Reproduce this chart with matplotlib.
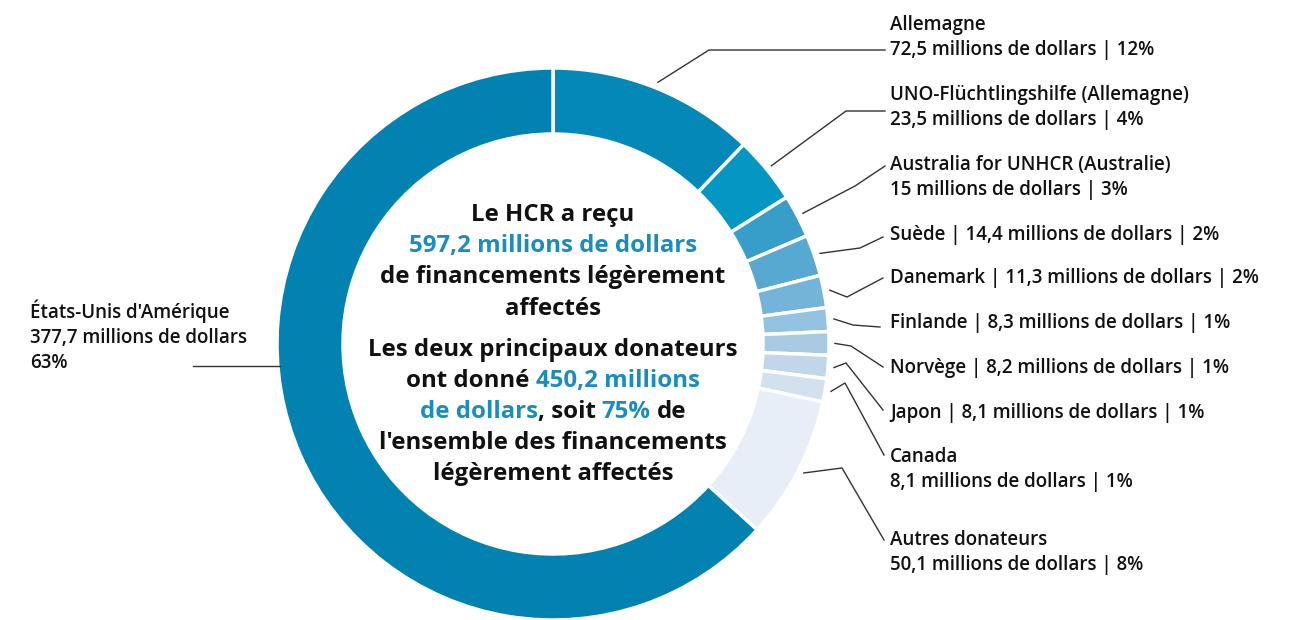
import numpy as np
import matplotlib.pyplot as plt

# données (millions de dollars)
donors = ["Allemagne", "UNO-Flüchtlingshilfe (Allemagne)", "Australia for UNHCR (Australie)",
          "Suède", "Danemark", "Finlande", "Norvège", "Japon", "Canada",
          "Autres donateurs", "États-Unis d'Amérique"]
amounts = [72.5, 23.5, 15, 14.4, 11.3, 8.3, 8.2, 8.1, 8.1, 50.1, 377.7]
amount_txt = ["72,5", "23,5", "15", "14,4", "11,3", "8,3", "8,2", "8,1", "8,1", "50,1", "377,7"]
pct_txt = ["12%", "4%", "3%", "2%", "2%", "1%", "1%", "1%", "1%", "8%", "63%"]
colors = ["#0388b7", "#0597c4", "#379ec9", "#57a9d2", "#75b4d9", "#94c2e1",
          "#a9cae3", "#c1d6ea", "#d3e1ef", "#e7eef7", "#0282b1"]

W, H = 1296, 620
CX, CY = 553, 344      # centre (pixels, depuis le haut)
R_OUT, RING = 276, 66
BLUE = "#1a8dbf"
DARK = "#111111"
FONT = "Open Sans"
LSIZE = 13.5
CSIZE = 17.3

plt.rcParams['font.family'] = [FONT, 'DejaVu Sans']

fig = plt.figure(figsize=(W / 100, H / 100), dpi=100)
ax = fig.add_axes([0, 0, 1, 1])


def Y(y):
    return H - y


ax.pie(amounts, colors=colors, startangle=90, counterclock=False,
       radius=R_OUT, center=(CX, Y(CY)),
       wedgeprops=dict(width=RING, edgecolor="white", linewidth=2.5))

# angles milieu de chaque part
total = sum(amounts)
cum = np.cumsum([0] + amounts[:-1])
mid = [np.deg2rad(90 - 360 * (c + v / 2) / total) for c, v in zip(cum, amounts)]

# étiquettes de droite : (ligne 1, ligne 2 ou None, baseline, coude, bout du trait)
labels = [
    ("Allemagne", "72,5 millions de dollars | 12%", 30, (709, 50), (885, 50)),
    ("UNO-Flüchtlingshilfe (Allemagne)", "23,5 millions de dollars | 4%", 100, (846, 111), (885, 111)),
    ("Australia for UNHCR (Australie)", "15 millions de dollars | 3%", 170, (855, 186), (885, 166)),
    ("Suède | 14,4 millions de dollars | 2%", None, 240, (860, 248), (883, 237)),
    ("Danemark | 11,3 millions de dollars | 2%", None, 283, (847, 297), (883, 278)),
    ("Finlande | 8,3 millions de dollars | 1%", None, 328, (853, 325), (880, 327)),
    ("Norvège | 8,2 millions de dollars | 1%", None, 373, (851, 346), (883, 367)),
    ("Japon | 8,1 millions de dollars | 1%", None, 418, (846, 363), (883, 410)),
    ("Canada", "8,1 millions de dollars | 1%", 462, (845, 383), (884, 455)),
    ("Autres donateurs", "50,1 millions de dollars | 8%", 545, (842, 468), (884, 540)),
]

for i, (l1, l2, base, elbow, end) in enumerate(labels):
    r = R_OUT + 6
    sx = CX + r * np.cos(mid[i])
    sy = CY - r * np.sin(mid[i])
    ax.plot([sx, elbow[0], end[0]], [Y(sy), Y(elbow[1]), Y(end[1])],
            color="#333333", lw=1, solid_joinstyle="miter")
    ax.text(890, Y(base), l1, fontsize=LSIZE, fontweight="semibold", color=DARK,
            va="baseline", ha="left")
    if l2:
        ax.text(890, Y(base + 25), l2, fontsize=LSIZE, fontweight="semibold", color=DARK,
                va="baseline", ha="left")

# États-Unis à gauche
ang = np.deg2rad(184.5)
ax.plot([CX + (R_OUT - 2) * np.cos(ang), 193], [Y(CY - R_OUT * np.sin(ang)), Y(CY - R_OUT * np.sin(ang))],
        color="#333333", lw=1)
for k, s in enumerate([donors[10], amount_txt[10] + " millions de dollars", pct_txt[10]]):
    ax.text(30, Y(318 + 25 * k), s, fontsize=LSIZE, fontweight="semibold", color=DARK,
            va="baseline", ha="left")

# texte central
center_lines = [
    [("Le HCR a reçu", DARK)],
    [("597,2 millions de dollars", BLUE)],
    [("de financements légèrement", DARK)],
    [("affectés", DARK)],
    [("Les deux principaux donateurs", DARK)],
    [("ont donné ", DARK), ("450,2 millions", BLUE)],
    [("de dollars", BLUE), (", soit ", DARK), ("75%", BLUE), (" de", DARK)],
    [("l'ensemble des financements", DARK)],
    [("légèrement affectés", DARK)],
]
center_base = [221, 252, 283, 315, 356, 387, 418, 449, 480]

renderer = fig.canvas.get_renderer()


def text_w(s, size):
    t = ax.text(0, 0, s, fontsize=size, fontweight="bold")
    w = t.get_window_extent(renderer).width
    t.remove()
    return w


space_w = text_w("a a", CSIZE) - text_w("aa", CSIZE)

for segs, base in zip(center_lines, center_base):
    widths = []
    for s, c in segs:
        core = s.strip(" ")
        n_sp = len(s) - len(core)
        widths.append(text_w(core, CSIZE) + n_sp * space_w)
    x = CX - sum(widths) / 2
    for (s, c), w in zip(segs, widths):
        lead = len(s) - len(s.lstrip(" "))
        ax.text(x + lead * space_w, Y(base), s.strip(" "), fontsize=CSIZE, fontweight="bold",
                color=c, va="baseline", ha="left")
        x += w

ax.set_xlim(0, W)
ax.set_ylim(0, H)
ax.axis("off")

fig.savefig("out.png", dpi=100)
